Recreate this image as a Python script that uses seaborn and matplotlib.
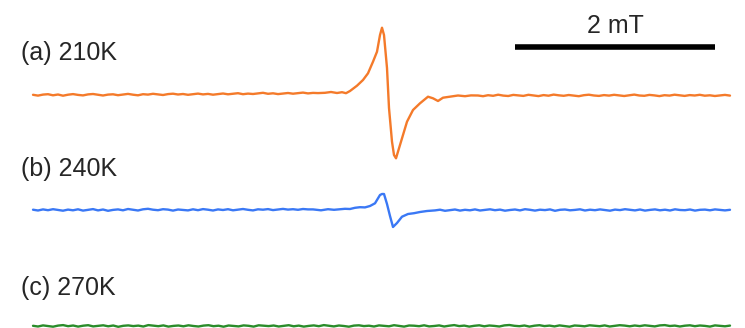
import numpy as np
import pandas as pd
import seaborn as sns
import matplotlib
matplotlib.use('Agg')
import matplotlib.pyplot as plt

# EPR derivative spectra, field in mT (relative), intensity in arb. units
# (a) 210K - orange
orange_left = [0.02, -0.06, 0.04, 0.08, -0.03, 0.05, -0.07, 0.03, 0.09, 0.01,
               -0.04, 0.06, 0.10, 0.02, -0.05, 0.04, 0.07, -0.02, 0.05, 0.11,
               0.03, -0.03, 0.08, 0.04, 0.12, 0.06, 0.00, 0.09, 0.13, 0.05,
               0.10, 0.02, 0.08, 0.14, 0.06, 0.11, 0.03, 0.09, 0.15, 0.07,
               0.12, 0.18, 0.08, 0.14, 0.10, 0.16, 0.22, 0.12, 0.17, 0.09,
               0.15, 0.20, 0.13, 0.18, 0.24, 0.16, 0.21, 0.19]
orange_sig_B = [2.92, 2.98, 3.04, 3.09, 3.13, 3.17, 3.24, 3.30, 3.35, 3.40,
                3.44, 3.47, 3.49, 3.51, 3.54, 3.56, 3.59, 3.61, 3.63, 3.65,
                3.69, 3.74, 3.80, 3.87, 3.95, 4.00, 4.05, 4.10, 4.17, 4.25,
                4.32, 4.38]
orange_sig_I = [0.22, 0.30, 0.20, 0.28, 0.18, 0.40, 0.93, 1.50, 2.17, 3.33,
                4.33, 6.00, 6.73, 6.00, 2.70, -1.30, -4.67, -6.00, -6.33, -5.67,
                -4.33, -2.67, -1.50, -0.83, -0.17, -0.33, -0.60, -0.27, -0.17, -0.05,
                -0.12, -0.04]
orange_right = [-0.05, -0.12, -0.02, -0.08, 0.03, -0.06, -0.10, 0.01, -0.04, -0.09,
                0.02, -0.05, -0.11, -0.01, -0.07, 0.04, -0.03, -0.08, 0.00, -0.06,
                -0.12, -0.02, 0.03, -0.05, -0.09, -0.01, -0.06, 0.02, -0.04, -0.10,
                -0.03, 0.04, -0.05, -0.08, 0.01, -0.04, -0.11, -0.02, -0.06, 0.03,
                -0.03, -0.09, -0.01, -0.05, 0.02, -0.07, -0.03, -0.10, -0.04, 0.01,
                -0.06]

# (b) 240K - blue
blue_left = [0.03, -0.05, 0.06, -0.02, 0.08, 0.00, -0.07, 0.04, -0.03, 0.07,
             -0.06, 0.02, 0.09, -0.04, 0.05, -0.08, 0.01, 0.06, -0.03, 0.10,
             0.02, -0.05, 0.07, 0.12, 0.03, -0.02, 0.08, 0.04, -0.06, 0.05,
             0.01, -0.04, 0.07, -0.02, 0.09, 0.03, -0.05, 0.06, 0.00, 0.08,
             -0.03, 0.04, 0.10, 0.02, -0.04, 0.07, 0.03, 0.09, -0.01, 0.05,
             0.11, 0.04, 0.08, 0.02, 0.10, 0.06]
blue_sig_B = [2.80, 2.88, 2.95, 3.01, 3.07, 3.12, 3.17, 3.22, 3.27, 3.32,
              3.37, 3.42, 3.47, 3.49, 3.51, 3.54, 3.57, 3.60, 3.64, 3.69,
              3.75, 3.81, 3.87, 3.94]
blue_sig_I = [0.06, -0.03, 0.08, 0.02, 0.07, 0.12, 0.10, 0.22, 0.28, 0.26,
              0.40, 0.67, 1.50, 1.60, 1.60, 0.60, -0.60, -1.70, -1.30, -0.67,
              -0.40, -0.32, -0.20, -0.10]
blue_right = [-0.04, 0.03, -0.08, -0.01, 0.05, -0.06, 0.02, -0.03, 0.06, -0.05,
              0.01, 0.07, -0.02, 0.04, -0.07, 0.00, 0.05, -0.04, 0.08, 0.02,
              -0.06, 0.03, -0.01, 0.06, -0.08, 0.02, 0.05, -0.03, 0.01, 0.07,
              -0.05, 0.03, -0.02, 0.06, 0.00, -0.07, 0.04, -0.01, 0.08, 0.02,
              -0.04, 0.05, -0.06, 0.01, 0.06, -0.03, 0.03, -0.05, 0.07, 0.00,
              -0.02, 0.05, -0.06, 0.02, 0.04, -0.03, 0.06, 0.01, -0.04, 0.02]

# (c) 270K - green (no signal)
green_I = [0.02, -0.05, 0.06, 0.00, -0.07, 0.04, 0.09, -0.02, 0.05, -0.06,
           0.03, 0.08, -0.04, 0.01, 0.07, -0.03, 0.05, -0.08, 0.02, 0.06,
           -0.01, 0.04, -0.05, 0.09, 0.03, -0.02, 0.06, -0.06, 0.01, 0.05,
           -0.03, 0.07, 0.00, -0.05, 0.04, 0.08, -0.02, 0.03, -0.07, 0.05,
           0.01, -0.04, 0.06, 0.02, -0.06, 0.07, 0.03, -0.01, 0.05, -0.05,
           0.02, 0.08, -0.03, 0.04, -0.06, 0.01, 0.06, -0.02, 0.09, 0.03,
           -0.04, 0.05, 0.00, -0.07, 0.04, 0.07, -0.01, 0.03, -0.05, 0.06,
           0.02, -0.03, 0.08, 0.01, -0.06, 0.05, 0.03, -0.02, 0.07, -0.04,
           0.00, 0.06, -0.05, 0.03, 0.09, -0.01, 0.04, -0.06, 0.02, 0.07,
           -0.03, 0.05, 0.01, -0.05, 0.06, 0.10, 0.02, -0.02, 0.05, -0.06,
           0.03, 0.08, -0.01, 0.04, -0.04, 0.06, 0.00, -0.07, 0.05, 0.02,
           -0.03, 0.07, 0.03, -0.02, 0.06, -0.05, 0.01, 0.08, 0.04, -0.03,
           0.05, -0.01, 0.07, 0.02, -0.04, 0.06, 0.09, 0.00, 0.04, -0.05,
           0.03, 0.07, -0.02, 0.05, 0.01, -0.06, 0.06, 0.02, -0.03, 0.04]

labels = ["(a) 210K", "(b) 240K", "(c) 270K"]
label_y = [4.2, -7.4, -19.3]
offsets = [0.0, 11.5, 23.1]
colors = ["#f47a2a", "#3a78f5", "#2a8c2a"]
bar_mT = 2

orange_B = np.concatenate([np.linspace(0, 2.85, len(orange_left)), orange_sig_B,
                           np.linspace(4.45, 6.97, len(orange_right))])
orange_Iall = np.concatenate([orange_left, orange_sig_I, orange_right])
blue_B = np.concatenate([np.linspace(0, 2.75, len(blue_left)), blue_sig_B,
                         np.linspace(4.02, 6.97, len(blue_right))])
blue_Iall = np.concatenate([blue_left, blue_sig_I, blue_right])
green_B = np.linspace(0, 6.97, len(green_I))

traces = [(orange_B, orange_Iall), (blue_B, blue_Iall), (green_B, np.array(green_I))]

sns.set_style("white")
plt.rcParams['font.family'] = ['Liberation Sans', 'DejaVu Sans']

fig = plt.figure(figsize=(7.45, 3.28), dpi=100)
ax = fig.add_axes([0, 0, 1, 1])

for (B, I), off, c, lab, ly in zip(traces, offsets, colors, labels, label_y):
    df = pd.DataFrame({"B": B, "I": np.asarray(I) - off})
    sns.lineplot(data=df, x="B", y="I", color=c, linewidth=1.7, ax=ax,
                 estimator=None, sort=False)
    ax.text(-0.12, ly, lab, fontsize=18, ha="left", va="center")

# scale bar
ax.plot([4.82, 4.82 + bar_mT], [4.83, 4.83], color="black", linewidth=4,
        solid_capstyle="butt")
ax.text(4.82 + bar_mT / 2, 6.9, f"{bar_mT} mT", fontsize=18, ha="center",
        va="center")

ax.set_xlim(-0.33, 7.12)
ax.set_ylim(-23.3, 9.5)
ax.axis("off")

plt.savefig("out.png", dpi=100)
